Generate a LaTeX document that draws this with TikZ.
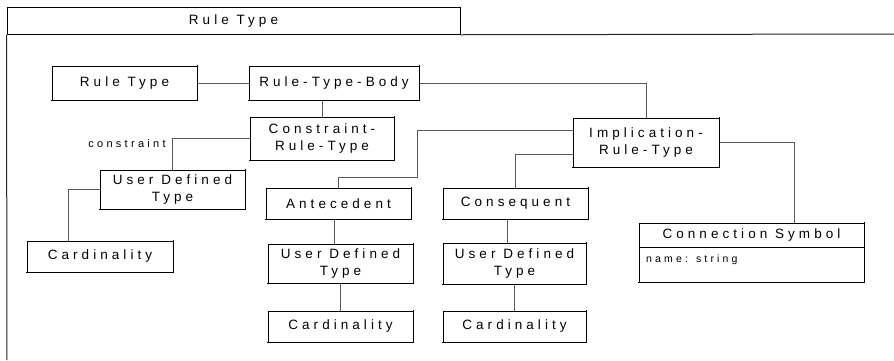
\documentclass[tikz,border=0pt]{standalone}
\usepackage{fontspec}
\newfontfamily\diagfont[LetterSpace=30]{Liberation Sans}
\begin{document}
\begin{tikzpicture}[x=1pt,y=-1pt,
  box/.style={draw=black,line width=1pt,inner sep=0pt,align=center,
    font=\diagfont\fontsize{13.5}{16.2}\selectfont},
  small/.style={inner sep=0pt,font=\diagfont\fontsize{10.5}{12}\selectfont},
  heavy/.style={draw=black,line width=1.8pt,line cap=rect},
  link/.style={draw=black!65,line width=0.8pt},
  frame/.style={draw=black!85,line width=1pt}]
\useasboundingbox (0,0) rectangle (894,360);

% package frame with its title tab
\node[box,minimum width=453pt,minimum height=26.5pt] (title) at (233.5,21) {Rule Type};
\draw[frame] (title.south west) -- (7,360);
\draw[frame] (title.south east) -- (894,34);

% classes
\node[box,minimum width=145pt,minimum height=34pt] (rt)     at (124.5,83)   {Rule Type};
\node[box,minimum width=170pt,minimum height=34pt] (body)   at (334,83)     {Rule-Type-Body};
\node[box,minimum width=144pt,minimum height=43pt] (constr) at (322,138.5)  {Constraint-\\Rule-Type};
\node[box,minimum width=145pt,minimum height=39pt] (udt1)   at (172.5,189.5){User Defined\\Type};
\node[box,minimum width=146pt,minimum height=31pt] (card1)  at (100,256.5)  {Cardinality};
\node[box,minimum width=146pt,minimum height=49pt] (impl)   at (646,142.5)  {Implication-\\Rule-Type};
\node[box,minimum width=145pt,minimum height=31pt] (ant)    at (338.5,203.5){Antecedent};
\node[box,minimum width=145pt,minimum height=39pt] (udt2)   at (340.5,263.5){User Defined\\Type};
\node[box,minimum width=145pt,minimum height=31pt] (card2)  at (340.5,326.5){Cardinality};
\node[box,minimum width=145pt,minimum height=31pt] (cons)   at (515.5,203.5){Consequent};
\node[box,minimum width=143pt,minimum height=41pt] (udt3)   at (514.5,263.5){User Defined\\Type};
\node[box,minimum width=143pt,minimum height=31pt] (card3)  at (514.5,326.5){Cardinality};

% class with an attribute compartment
\node[box,minimum width=225pt,minimum height=24pt] (connhead) at (751.5,235)   {Connection Symbol};
\node[box,minimum width=225pt,minimum height=35pt] (connbody) at (751.5,264.5) {};
\node[small,anchor=west] (connattr) at (646,260) {name: string};

% heavier right and bottom edges of the class boxes
\foreach \n in {rt,body,constr,udt1,card1,impl,ant,udt2,card2,cons,udt3,card3}
  \draw[heavy] (\n.north east) -- (\n.south east) -- (\n.south west);
\draw[heavy] (connhead.north east) -- (connbody.south east) -- (connbody.south west);

% role label
\node[small,font=\diagfont\fontsize{11}{13}\selectfont] (role) at (127,144) {constraint};

% associations
\draw[link] (rt.east) -- (body.west);
\draw[link] (body.east) -| (impl.north);
\draw[link] (body.south -| constr.north) -- (constr.north);
\draw[link] (constr.west) -| (udt1.north);
\draw[link] (udt1.west) -| ([xshift=-32pt]card1.north);
\coordinate (j1) at (417,177);
\draw[link] ([yshift=12.5pt]impl.west) -| (j1) -| (ant.north);
\draw[link] ([yshift=-11.5pt]impl.west) -| (cons.north);
\draw[link] (impl.east) -| ([xshift=42.5pt]connhead.north);
\draw[link] ([xshift=-4.5pt]ant.south) -- ([xshift=-4.5pt]ant.south |- udt2.north);
\draw[link] (udt2.south) -- (card2.north);
\draw[link] ([xshift=-8.5pt]cons.south) -- ([xshift=-8.5pt]cons.south |- udt3.north);
\draw[link] (udt3.south) -- (card3.north);
\end{tikzpicture}
\end{document}
